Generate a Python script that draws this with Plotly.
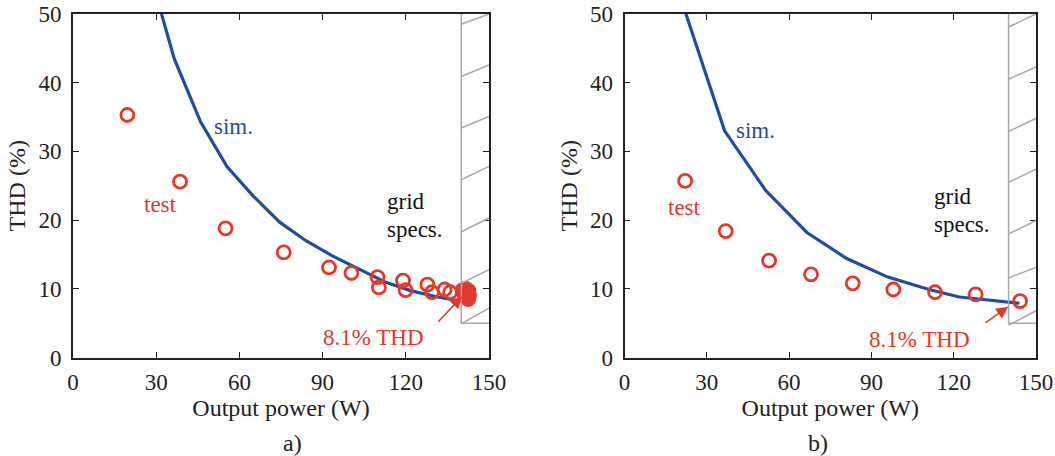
import plotly.graph_objects as go

# ---------------- data ----------------
# panel a)
sim_a_x = [27, 36.5, 46, 55.5, 65, 74.5, 84, 93.5, 103, 112.5, 122, 131.5, 141, 142.8]
sim_a_y = [57, 43.5, 34.3, 27.8, 23.5, 19.7, 17.0, 14.8, 12.9, 11.0, 9.7, 8.8, 8.1, 8.0]
test_a_x = [19.6, 38.6, 55.0, 76.0, 92.3, 100.4, 109.8, 110.3, 119.0, 119.9, 127.8, 129.4,
            134.0, 136.0, 140.5, 141.2, 141.8, 142.3, 142.8, 142.5, 141.6, 142.0, 142.6]
test_a_y = [35.3, 25.6, 18.8, 15.3, 13.1, 12.3, 11.7, 10.2, 11.2, 9.8, 10.6, 9.5,
            9.9, 9.5, 9.8, 9.2, 8.8, 9.5, 9.0, 8.5, 10.0, 9.2, 9.7]
# panel b)
sim_b_x = [22, 36.5, 51.5, 66.5, 81, 96, 111, 122, 144]
sim_b_y = [50.5, 33.0, 24.3, 18.2, 14.4, 11.7, 9.9, 8.8, 7.9]
test_b_x = [22.1, 36.9, 52.7, 68.0, 83.2, 98.0, 113.2, 128.0, 144.2]
test_b_y = [25.7, 18.4, 14.1, 12.1, 10.8, 9.9, 9.5, 9.2, 8.2]

x_ticks = [0, 30, 60, 90, 120, 150]
y_ticks = [0, 10, 20, 30, 40, 50]

# grid specs region (hatched): x from 140 to 150, THD above 5 %
spec_x0, spec_x1, spec_y0, spec_y1 = 140, 150, 5, 50
hatch_a_left = [4.9, 10.8, 18.3, 25.9, 33.4, 40.9, 48.5]
hatch_a_right = [7.2, 12.8, 20.3, 27.8, 35.1, 42.6, 50.0]
hatch_b_left = [4.7, 11.6, 18.0, 25.5, 32.9, 40.5, 48.1]
hatch_b_right = [6.8, 13.1, 19.9, 27.4, 34.8, 42.3, 50.0]

BLUE = "#1f4e9e"
RED = "#e2392c"
GRAY = "#a8a8a8"
FONT = "Liberation Serif"

fig = go.Figure()

mk = dict(symbol="circle-open", size=13, color=RED, line=dict(width=2.8, color=RED))
fig.add_trace(go.Scatter(x=sim_a_x, y=sim_a_y, mode="lines", line=dict(color=BLUE, width=3.2),
                         xaxis="x", yaxis="y", showlegend=False))
fig.add_trace(go.Scatter(x=test_a_x, y=test_a_y, mode="markers", marker=mk,
                         xaxis="x", yaxis="y", showlegend=False))
fig.add_trace(go.Scatter(x=sim_b_x, y=sim_b_y, mode="lines", line=dict(color=BLUE, width=3.2),
                         xaxis="x2", yaxis="y2", showlegend=False))
fig.add_trace(go.Scatter(x=test_b_x, y=test_b_y, mode="markers", marker=mk,
                         xaxis="x2", yaxis="y2", showlegend=False))

axis_common = dict(
    range=[0, 150], tickvals=x_ticks, ticks="inside", ticklen=6, tickwidth=1.3,
    tickcolor="#222", showline=True, linecolor="#222", linewidth=1.6, mirror="ticks",
    showgrid=False, zeroline=False, tickfont=dict(family=FONT, size=23, color="#222"),
    title=dict(text="Output power (W)", font=dict(family=FONT, size=24, color="#222"), standoff=4),
    ticklabelstandoff=3, automargin=False,
)
yaxis_common = dict(
    range=[0, 50], tickvals=y_ticks, ticks="inside", ticklen=6, tickwidth=1.3,
    tickcolor="#222", showline=True, linecolor="#222", linewidth=1.6, mirror="ticks",
    showgrid=False, zeroline=False, tickfont=dict(family=FONT, size=23, color="#222"),
    title=dict(text="THD (%)", font=dict(family=FONT, size=24, color="#222"), standoff=6),
    ticklabelstandoff=5, automargin=False,
)

W, H = 1055, 456
y_dom = [(H - 357.5) / H, (H - 14) / H]
fig.update_layout(
    width=W, height=H, margin=dict(l=0, r=0, t=0, b=0, autoexpand=False),
    paper_bgcolor="white", plot_bgcolor="white",
    xaxis=dict(domain=[73 / W, 489 / W], anchor="y", **axis_common),
    yaxis=dict(domain=y_dom, anchor="x", **yaxis_common),
    xaxis2=dict(domain=[624.5 / W, 1036 / W], anchor="y2", **axis_common),
    yaxis2=dict(domain=y_dom, anchor="x2", **yaxis_common),
)

shapes = []
for xr, yr, hl, hr in [("x", "y", hatch_a_left, hatch_a_right), ("x2", "y2", hatch_b_left, hatch_b_right)]:
    ln = dict(color=GRAY, width=1.5)
    shapes.append(dict(type="line", xref=xr, yref=yr, x0=spec_x0, x1=spec_x0, y0=spec_y0, y1=spec_y1, line=ln))
    shapes.append(dict(type="line", xref=xr, yref=yr, x0=spec_x0, x1=spec_x1, y0=spec_y0, y1=spec_y0, line=ln))
    for a, b in zip(hl, hr):
        shapes.append(dict(type="line", xref=xr, yref=yr, x0=spec_x0, x1=spec_x1, y0=a, y1=b, line=ln))
fig.update_layout(shapes=shapes)

ann = []
def txt(xr, yr, x, y, s, color, xanchor="center"):
    ann.append(dict(xref=xr, yref=yr, x=x, y=y, text=s, showarrow=False, xanchor=xanchor, yanchor="middle",
                    font=dict(family=FONT, size=23, color=color)))

txt("x", "y", 57.8, 33.6, "sim.", BLUE)
txt("x", "y", 31.5, 22.2, "test", RED)
txt("x", "y", 112.4, 22.7, "grid", "#111", "left")
txt("x", "y", 112.4, 18.6, "specs.", "#111", "left")
txt("x", "y", 108.4, 2.9, "8.1% THD", RED)
txt("x2", "y2", 47.6, 33.1, "sim.", BLUE)
txt("x2", "y2", 21.7, 21.8, "test", RED)
txt("x2", "y2", 112.2, 23.4, "grid", "#111", "left")
txt("x2", "y2", 112.2, 19.4, "specs.", "#111", "left")
txt("x2", "y2", 107.7, 2.6, "8.1% THD", RED)

for xr, yr, tx, ty, hx, hy in [("x", "y", 140.3, 8.9, 131.2, 5.0), ("x2", "y2", 139.9, 7.4, 131.0, 4.9)]:
    ann.append(dict(xref=xr, yref=yr, axref=xr, ayref=yr, x=tx, y=ty, ax=hx, ay=hy, text="",
                    showarrow=True, arrowhead=2, arrowsize=1.6, arrowwidth=1.5, arrowcolor=RED))

ann.append(dict(xref="paper", yref="paper", x=281 / W, y=(H - 443) / H, text="a)", showarrow=False,
                yanchor="middle", font=dict(family=FONT, size=24, color="#222")))
ann.append(dict(xref="paper", yref="paper", x=830 / W, y=(H - 443) / H, text="b)", showarrow=False,
                yanchor="middle", font=dict(family=FONT, size=24, color="#222")))
fig.update_layout(annotations=ann)

fig.write_html("out.html")
